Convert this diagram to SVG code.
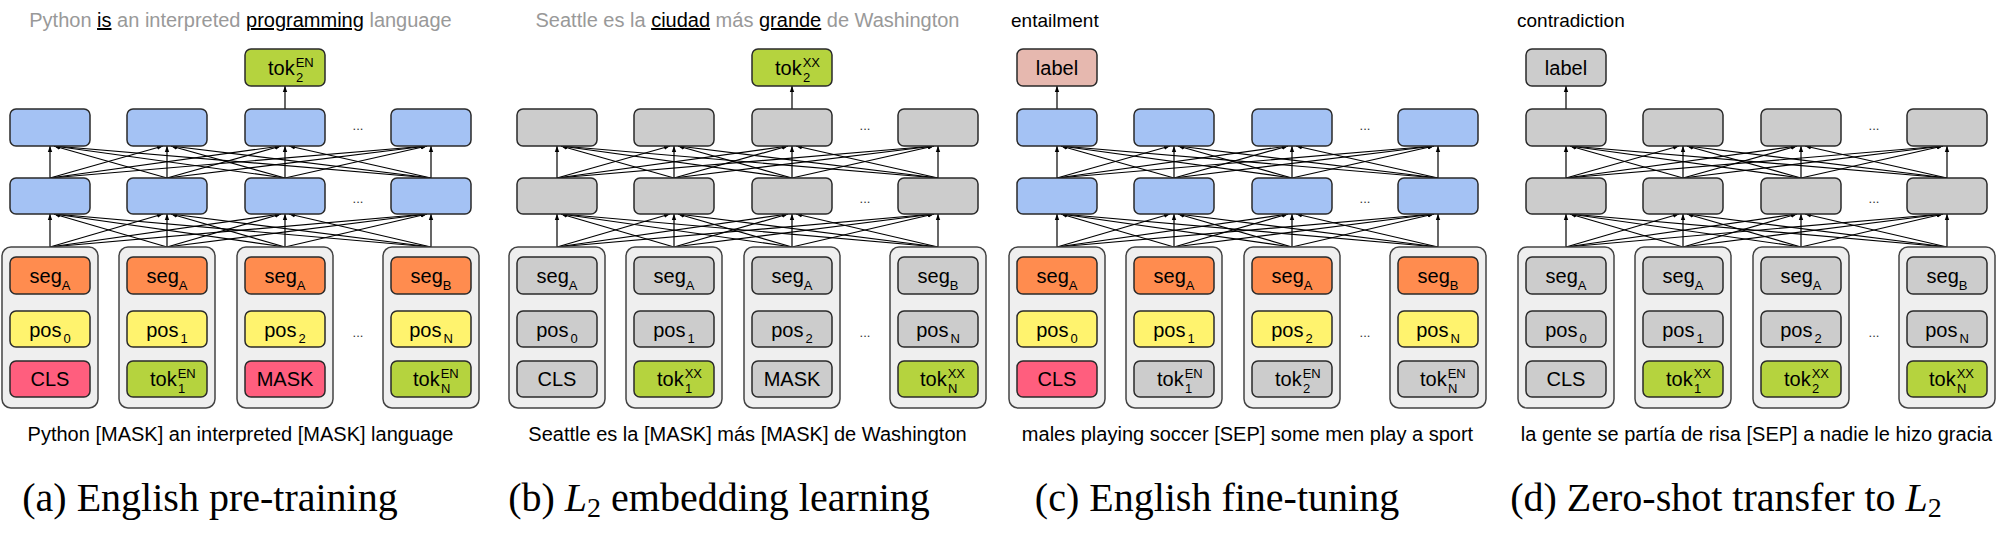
<svg xmlns="http://www.w3.org/2000/svg" xmlns:xlink="http://www.w3.org/1999/xlink" width="2000" height="533" viewBox="0 0 2000 533">
<style>
.bx{stroke:#2a2a2a;stroke-width:1.5}
.blue{fill:#A4C2F4}.gray{fill:#CCCCCC}.org{fill:#FF8C4F}.yel{fill:#FFF36E}.red{fill:#FF5E7E}.grn{fill:#B5D33E}.pink{fill:#E6B8AF}
.col{fill:#EFEFEF;stroke:#444;stroke-width:1.5}
text{font-family:"Liberation Sans",Arial,sans-serif}
.l{font-size:20px;fill:#000;text-anchor:middle}
.lt{font-size:20px;fill:#000}
.s{font-size:13px}
.dots{font-size:13px;fill:#333;text-anchor:middle}
.ttl{font-size:20px;fill:#999;text-anchor:middle}
.k{fill:#000;text-decoration:underline}
.hd{font-size:19px;fill:#000}
.btm{font-size:20px;fill:#000;text-anchor:middle}
.cap{font-family:"Liberation Serif","Times New Roman",serif;font-size:40px;fill:#000;text-anchor:middle}
</style>
<defs>
<marker id="ah" viewBox="0 0 6 6" refX="6" refY="3" markerWidth="6" markerHeight="6" orient="auto" markerUnits="userSpaceOnUse"><path d="M0,0.8 L6,3 L0,5.2 z" fill="#000"/></marker>
<g id="net" stroke="#000" stroke-width="1.2" marker-end="url(#ah)">
<line x1="50" y1="247" x2="50" y2="214"/><line x1="167" y1="247" x2="54" y2="214"/><line x1="285" y1="247" x2="54" y2="214"/><line x1="431" y1="247" x2="54" y2="214"/>
<line x1="50" y1="247" x2="163" y2="214"/><line x1="167" y1="247" x2="167" y2="214"/><line x1="285" y1="247" x2="171" y2="214"/><line x1="431" y1="247" x2="171" y2="214"/>
<line x1="50" y1="247" x2="281" y2="214"/><line x1="167" y1="247" x2="281" y2="214"/><line x1="285" y1="247" x2="285" y2="214"/><line x1="431" y1="247" x2="289" y2="214"/>
<line x1="50" y1="247" x2="427" y2="214"/><line x1="167" y1="247" x2="427" y2="214"/><line x1="285" y1="247" x2="427" y2="214"/><line x1="431" y1="247" x2="431" y2="214"/>
<line x1="50" y1="178" x2="50" y2="146"/><line x1="167" y1="178" x2="54" y2="146"/><line x1="285" y1="178" x2="54" y2="146"/><line x1="431" y1="178" x2="54" y2="146"/>
<line x1="50" y1="178" x2="163" y2="146"/><line x1="167" y1="178" x2="167" y2="146"/><line x1="285" y1="178" x2="171" y2="146"/><line x1="431" y1="178" x2="171" y2="146"/>
<line x1="50" y1="178" x2="281" y2="146"/><line x1="167" y1="178" x2="281" y2="146"/><line x1="285" y1="178" x2="285" y2="146"/><line x1="431" y1="178" x2="289" y2="146"/>
<line x1="50" y1="178" x2="427" y2="146"/><line x1="167" y1="178" x2="427" y2="146"/><line x1="285" y1="178" x2="427" y2="146"/><line x1="431" y1="178" x2="431" y2="146"/>
</g>
</defs>
<rect width="2000" height="533" fill="#fff"/>

<g id="connectors">
<use xlink:href="#net" href="#net"/>
<use xlink:href="#net" href="#net" transform="translate(507,0)"/>
<use xlink:href="#net" href="#net" transform="translate(1007,0)"/>
<use xlink:href="#net" href="#net" transform="translate(1516,0)"/>
<g stroke="#000" stroke-width="1.2" marker-end="url(#ah)">
<line x1="285" y1="109" x2="285" y2="86"/>
<line x1="792" y1="109" x2="792" y2="86"/>
<line x1="1057" y1="109" x2="1057" y2="86"/>
<line x1="1566" y1="109" x2="1566" y2="86"/>
</g>
</g>

<!-- Panel a -->
<g id="panel-a">
<text class="ttl" x="240.5" y="27">Python <tspan class="k">is</tspan> an interpreted <tspan class="k">programming</tspan> language</text>
<g id="a-out"><rect class="bx grn" x="245" y="49" width="80" height="37" rx="6"/><text class="lt" x="268" y="75">tok<tspan class="s" dx="1" dy="-8">EN</tspan><tspan class="s" x="296" dy="15">2</tspan></text></g>
<g id="a-h2-1"><rect class="bx blue" x="10" y="109" width="80" height="37" rx="6"/></g>
<g id="a-h2-2"><rect class="bx blue" x="127" y="109" width="80" height="37" rx="6"/></g>
<g id="a-h2-3"><rect class="bx blue" x="245" y="109" width="80" height="37" rx="6"/></g>
<g id="a-h2-4"><rect class="bx blue" x="391" y="109" width="80" height="37" rx="6"/></g>
<g id="a-h1-1"><rect class="bx blue" x="10" y="178" width="80" height="36" rx="6"/></g>
<g id="a-h1-2"><rect class="bx blue" x="127" y="178" width="80" height="36" rx="6"/></g>
<g id="a-h1-3"><rect class="bx blue" x="245" y="178" width="80" height="36" rx="6"/></g>
<g id="a-h1-4"><rect class="bx blue" x="391" y="178" width="80" height="36" rx="6"/></g>
<text class="dots" x="358" y="130">...</text><text class="dots" x="358" y="203">...</text><text class="dots" x="358" y="337">...</text>
<g id="a-in1"><rect class="col" x="2" y="247" width="96" height="161" rx="9"/>
<rect class="bx org" x="10" y="257" width="80" height="37" rx="6"/><text class="l" x="50" y="283">seg<tspan class="s" dy="7">A</tspan></text>
<rect class="bx yel" x="10" y="311" width="80" height="36" rx="6"/><text class="l" x="50" y="337">pos<tspan class="s" dx="2" dy="6">0</tspan></text>
<rect class="bx red" x="10" y="361" width="80" height="36" rx="6"/><text class="l" x="50" y="386">CLS</text></g>
<g id="a-in2"><rect class="col" x="119" y="247" width="96" height="161" rx="9"/>
<rect class="bx org" x="127" y="257" width="80" height="37" rx="6"/><text class="l" x="167" y="283">seg<tspan class="s" dy="7">A</tspan></text>
<rect class="bx yel" x="127" y="311" width="80" height="36" rx="6"/><text class="l" x="167" y="337">pos<tspan class="s" dx="2" dy="6">1</tspan></text>
<rect class="bx grn" x="127" y="361" width="80" height="36" rx="6"/><text class="lt" x="150" y="386">tok<tspan class="s" dx="1" dy="-8">EN</tspan><tspan class="s" x="178" dy="15">1</tspan></text></g>
<g id="a-in3"><rect class="col" x="237" y="247" width="96" height="161" rx="9"/>
<rect class="bx org" x="245" y="257" width="80" height="37" rx="6"/><text class="l" x="285" y="283">seg<tspan class="s" dy="7">A</tspan></text>
<rect class="bx yel" x="245" y="311" width="80" height="36" rx="6"/><text class="l" x="285" y="337">pos<tspan class="s" dx="2" dy="6">2</tspan></text>
<rect class="bx red" x="245" y="361" width="80" height="36" rx="6"/><text class="l" x="285" y="386">MASK</text></g>
<g id="a-in4"><rect class="col" x="383" y="247" width="96" height="161" rx="9"/>
<rect class="bx org" x="391" y="257" width="80" height="37" rx="6"/><text class="l" x="431" y="283">seg<tspan class="s" dy="7">B</tspan></text>
<rect class="bx yel" x="391" y="311" width="80" height="36" rx="6"/><text class="l" x="431" y="337">pos<tspan class="s" dx="2" dy="6">N</tspan></text>
<rect class="bx grn" x="391" y="361" width="80" height="36" rx="6"/><text class="lt" x="413" y="386">tok<tspan class="s" dx="1" dy="-8">EN</tspan><tspan class="s" x="441" dy="15">N</tspan></text></g>
<text class="btm" x="240.5" y="441">Python [MASK] an interpreted [MASK] language</text>
<text class="cap" x="210" y="511">(a) English pre-training</text>
</g>

<!-- Panel b -->
<g id="panel-b" transform="translate(507,0)">
<text class="ttl" x="240.5" y="27">Seattle es la <tspan class="k">ciudad</tspan> más <tspan class="k">grande</tspan> de Washington</text>
<g id="b-out"><rect class="bx grn" x="245" y="49" width="80" height="37" rx="6"/><text class="lt" x="268" y="75">tok<tspan class="s" dx="1" dy="-8">XX</tspan><tspan class="s" x="296" dy="15">2</tspan></text></g>
<g id="b-h2-1"><rect class="bx gray" x="10" y="109" width="80" height="37" rx="6"/></g>
<g id="b-h2-2"><rect class="bx gray" x="127" y="109" width="80" height="37" rx="6"/></g>
<g id="b-h2-3"><rect class="bx gray" x="245" y="109" width="80" height="37" rx="6"/></g>
<g id="b-h2-4"><rect class="bx gray" x="391" y="109" width="80" height="37" rx="6"/></g>
<g id="b-h1-1"><rect class="bx gray" x="10" y="178" width="80" height="36" rx="6"/></g>
<g id="b-h1-2"><rect class="bx gray" x="127" y="178" width="80" height="36" rx="6"/></g>
<g id="b-h1-3"><rect class="bx gray" x="245" y="178" width="80" height="36" rx="6"/></g>
<g id="b-h1-4"><rect class="bx gray" x="391" y="178" width="80" height="36" rx="6"/></g>
<text class="dots" x="358" y="130">...</text><text class="dots" x="358" y="203">...</text><text class="dots" x="358" y="337">...</text>
<g id="b-in1"><rect class="col" x="2" y="247" width="96" height="161" rx="9"/>
<rect class="bx gray" x="10" y="257" width="80" height="37" rx="6"/><text class="l" x="50" y="283">seg<tspan class="s" dy="7">A</tspan></text>
<rect class="bx gray" x="10" y="311" width="80" height="36" rx="6"/><text class="l" x="50" y="337">pos<tspan class="s" dx="2" dy="6">0</tspan></text>
<rect class="bx gray" x="10" y="361" width="80" height="36" rx="6"/><text class="l" x="50" y="386">CLS</text></g>
<g id="b-in2"><rect class="col" x="119" y="247" width="96" height="161" rx="9"/>
<rect class="bx gray" x="127" y="257" width="80" height="37" rx="6"/><text class="l" x="167" y="283">seg<tspan class="s" dy="7">A</tspan></text>
<rect class="bx gray" x="127" y="311" width="80" height="36" rx="6"/><text class="l" x="167" y="337">pos<tspan class="s" dx="2" dy="6">1</tspan></text>
<rect class="bx grn" x="127" y="361" width="80" height="36" rx="6"/><text class="lt" x="150" y="386">tok<tspan class="s" dx="1" dy="-8">XX</tspan><tspan class="s" x="178" dy="15">1</tspan></text></g>
<g id="b-in3"><rect class="col" x="237" y="247" width="96" height="161" rx="9"/>
<rect class="bx gray" x="245" y="257" width="80" height="37" rx="6"/><text class="l" x="285" y="283">seg<tspan class="s" dy="7">A</tspan></text>
<rect class="bx gray" x="245" y="311" width="80" height="36" rx="6"/><text class="l" x="285" y="337">pos<tspan class="s" dx="2" dy="6">2</tspan></text>
<rect class="bx gray" x="245" y="361" width="80" height="36" rx="6"/><text class="l" x="285" y="386">MASK</text></g>
<g id="b-in4"><rect class="col" x="383" y="247" width="96" height="161" rx="9"/>
<rect class="bx gray" x="391" y="257" width="80" height="37" rx="6"/><text class="l" x="431" y="283">seg<tspan class="s" dy="7">B</tspan></text>
<rect class="bx gray" x="391" y="311" width="80" height="36" rx="6"/><text class="l" x="431" y="337">pos<tspan class="s" dx="2" dy="6">N</tspan></text>
<rect class="bx grn" x="391" y="361" width="80" height="36" rx="6"/><text class="lt" x="413" y="386">tok<tspan class="s" dx="1" dy="-8">XX</tspan><tspan class="s" x="441" dy="15">N</tspan></text></g>
<text class="btm" x="240.5" y="441">Seattle es la [MASK] más [MASK] de Washington</text>
<text class="cap" x="212" y="511">(b) <tspan font-style="italic">L</tspan><tspan font-size="28" dy="6">2</tspan><tspan dy="-6"> embedding learning</tspan></text>
</g>

<!-- Panel c -->
<g id="panel-c" transform="translate(1007,0)">
<text class="hd" x="4" y="27">entailment</text>
<g id="c-out"><rect class="bx pink" x="10" y="49" width="80" height="37" rx="6"/><text class="l" x="50" y="75">label</text></g>
<g id="c-h2-1"><rect class="bx blue" x="10" y="109" width="80" height="37" rx="6"/></g>
<g id="c-h2-2"><rect class="bx blue" x="127" y="109" width="80" height="37" rx="6"/></g>
<g id="c-h2-3"><rect class="bx blue" x="245" y="109" width="80" height="37" rx="6"/></g>
<g id="c-h2-4"><rect class="bx blue" x="391" y="109" width="80" height="37" rx="6"/></g>
<g id="c-h1-1"><rect class="bx blue" x="10" y="178" width="80" height="36" rx="6"/></g>
<g id="c-h1-2"><rect class="bx blue" x="127" y="178" width="80" height="36" rx="6"/></g>
<g id="c-h1-3"><rect class="bx blue" x="245" y="178" width="80" height="36" rx="6"/></g>
<g id="c-h1-4"><rect class="bx blue" x="391" y="178" width="80" height="36" rx="6"/></g>
<text class="dots" x="358" y="130">...</text><text class="dots" x="358" y="203">...</text><text class="dots" x="358" y="337">...</text>
<g id="c-in1"><rect class="col" x="2" y="247" width="96" height="161" rx="9"/>
<rect class="bx org" x="10" y="257" width="80" height="37" rx="6"/><text class="l" x="50" y="283">seg<tspan class="s" dy="7">A</tspan></text>
<rect class="bx yel" x="10" y="311" width="80" height="36" rx="6"/><text class="l" x="50" y="337">pos<tspan class="s" dx="2" dy="6">0</tspan></text>
<rect class="bx red" x="10" y="361" width="80" height="36" rx="6"/><text class="l" x="50" y="386">CLS</text></g>
<g id="c-in2"><rect class="col" x="119" y="247" width="96" height="161" rx="9"/>
<rect class="bx org" x="127" y="257" width="80" height="37" rx="6"/><text class="l" x="167" y="283">seg<tspan class="s" dy="7">A</tspan></text>
<rect class="bx yel" x="127" y="311" width="80" height="36" rx="6"/><text class="l" x="167" y="337">pos<tspan class="s" dx="2" dy="6">1</tspan></text>
<rect class="bx gray" x="127" y="361" width="80" height="36" rx="6"/><text class="lt" x="150" y="386">tok<tspan class="s" dx="1" dy="-8">EN</tspan><tspan class="s" x="178" dy="15">1</tspan></text></g>
<g id="c-in3"><rect class="col" x="237" y="247" width="96" height="161" rx="9"/>
<rect class="bx org" x="245" y="257" width="80" height="37" rx="6"/><text class="l" x="285" y="283">seg<tspan class="s" dy="7">A</tspan></text>
<rect class="bx yel" x="245" y="311" width="80" height="36" rx="6"/><text class="l" x="285" y="337">pos<tspan class="s" dx="2" dy="6">2</tspan></text>
<rect class="bx gray" x="245" y="361" width="80" height="36" rx="6"/><text class="lt" x="268" y="386">tok<tspan class="s" dx="1" dy="-8">EN</tspan><tspan class="s" x="296" dy="15">2</tspan></text></g>
<g id="c-in4"><rect class="col" x="383" y="247" width="96" height="161" rx="9"/>
<rect class="bx org" x="391" y="257" width="80" height="37" rx="6"/><text class="l" x="431" y="283">seg<tspan class="s" dy="7">B</tspan></text>
<rect class="bx yel" x="391" y="311" width="80" height="36" rx="6"/><text class="l" x="431" y="337">pos<tspan class="s" dx="2" dy="6">N</tspan></text>
<rect class="bx gray" x="391" y="361" width="80" height="36" rx="6"/><text class="lt" x="413" y="386">tok<tspan class="s" dx="1" dy="-8">EN</tspan><tspan class="s" x="441" dy="15">N</tspan></text></g>
<text class="btm" x="240.5" y="441">males playing soccer [SEP] some men play a sport</text>
<text class="cap" x="210" y="511">(c) English fine-tuning</text>
</g>

<!-- Panel d -->
<g id="panel-d" transform="translate(1516,0)">
<text class="hd" x="1" y="27">contradiction</text>
<g id="d-out"><rect class="bx gray" x="10" y="49" width="80" height="37" rx="6"/><text class="l" x="50" y="75">label</text></g>
<g id="d-h2-1"><rect class="bx gray" x="10" y="109" width="80" height="37" rx="6"/></g>
<g id="d-h2-2"><rect class="bx gray" x="127" y="109" width="80" height="37" rx="6"/></g>
<g id="d-h2-3"><rect class="bx gray" x="245" y="109" width="80" height="37" rx="6"/></g>
<g id="d-h2-4"><rect class="bx gray" x="391" y="109" width="80" height="37" rx="6"/></g>
<g id="d-h1-1"><rect class="bx gray" x="10" y="178" width="80" height="36" rx="6"/></g>
<g id="d-h1-2"><rect class="bx gray" x="127" y="178" width="80" height="36" rx="6"/></g>
<g id="d-h1-3"><rect class="bx gray" x="245" y="178" width="80" height="36" rx="6"/></g>
<g id="d-h1-4"><rect class="bx gray" x="391" y="178" width="80" height="36" rx="6"/></g>
<text class="dots" x="358" y="130">...</text><text class="dots" x="358" y="203">...</text><text class="dots" x="358" y="337">...</text>
<g id="d-in1"><rect class="col" x="2" y="247" width="96" height="161" rx="9"/>
<rect class="bx gray" x="10" y="257" width="80" height="37" rx="6"/><text class="l" x="50" y="283">seg<tspan class="s" dy="7">A</tspan></text>
<rect class="bx gray" x="10" y="311" width="80" height="36" rx="6"/><text class="l" x="50" y="337">pos<tspan class="s" dx="2" dy="6">0</tspan></text>
<rect class="bx gray" x="10" y="361" width="80" height="36" rx="6"/><text class="l" x="50" y="386">CLS</text></g>
<g id="d-in2"><rect class="col" x="119" y="247" width="96" height="161" rx="9"/>
<rect class="bx gray" x="127" y="257" width="80" height="37" rx="6"/><text class="l" x="167" y="283">seg<tspan class="s" dy="7">A</tspan></text>
<rect class="bx gray" x="127" y="311" width="80" height="36" rx="6"/><text class="l" x="167" y="337">pos<tspan class="s" dx="2" dy="6">1</tspan></text>
<rect class="bx grn" x="127" y="361" width="80" height="36" rx="6"/><text class="lt" x="150" y="386">tok<tspan class="s" dx="1" dy="-8">XX</tspan><tspan class="s" x="178" dy="15">1</tspan></text></g>
<g id="d-in3"><rect class="col" x="237" y="247" width="96" height="161" rx="9"/>
<rect class="bx gray" x="245" y="257" width="80" height="37" rx="6"/><text class="l" x="285" y="283">seg<tspan class="s" dy="7">A</tspan></text>
<rect class="bx gray" x="245" y="311" width="80" height="36" rx="6"/><text class="l" x="285" y="337">pos<tspan class="s" dx="2" dy="6">2</tspan></text>
<rect class="bx grn" x="245" y="361" width="80" height="36" rx="6"/><text class="lt" x="268" y="386">tok<tspan class="s" dx="1" dy="-8">XX</tspan><tspan class="s" x="296" dy="15">2</tspan></text></g>
<g id="d-in4"><rect class="col" x="383" y="247" width="96" height="161" rx="9"/>
<rect class="bx gray" x="391" y="257" width="80" height="37" rx="6"/><text class="l" x="431" y="283">seg<tspan class="s" dy="7">B</tspan></text>
<rect class="bx gray" x="391" y="311" width="80" height="36" rx="6"/><text class="l" x="431" y="337">pos<tspan class="s" dx="2" dy="6">N</tspan></text>
<rect class="bx grn" x="391" y="361" width="80" height="36" rx="6"/><text class="lt" x="413" y="386">tok<tspan class="s" dx="1" dy="-8">XX</tspan><tspan class="s" x="441" dy="15">N</tspan></text></g>
<text class="btm" x="240.5" y="441">la gente se partía de risa [SEP] a nadie le hizo gracia</text>
<text class="cap" x="210" y="511">(d) Zero-shot transfer to <tspan font-style="italic">L</tspan><tspan font-size="28" dy="6">2</tspan></text>
</g>
</svg>
